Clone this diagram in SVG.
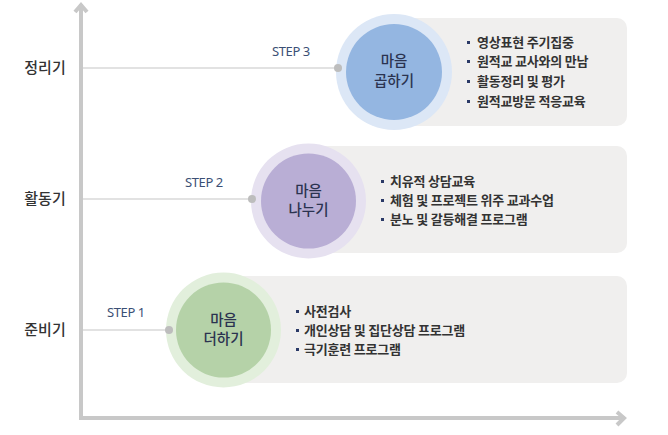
<svg xmlns="http://www.w3.org/2000/svg" width="668" height="435" viewBox="0 0 668 435">
<style>
.lvl{font-family:"Noto Sans CJK KR","Noto Sans",sans-serif;font-size:15px;fill:#333;font-weight:500;text-anchor:middle}
.step{font-family:"Noto Sans","Liberation Sans",sans-serif;font-size:13px;fill:#3b4f75;letter-spacing:-0.4px}
.ct{font-family:"Noto Sans CJK KR",sans-serif;font-size:14.5px;fill:#2b3350;font-weight:500;text-anchor:middle}
.bt{font-family:"Noto Sans CJK KR",sans-serif;font-size:13px;fill:#333;font-weight:700;letter-spacing:-0.2px}
.panel{fill:#f0efee}
.bul{fill:#2b3a67}
.axis{stroke:#c8c8c8;stroke-width:4;fill:none}
.lvlline{stroke:#e2e2e2;stroke-width:2}
.dot{fill:#bdbdbd}
</style>
<g id="axes">
<path class="axis" d="M81 4 V418 H625"/>
<path class="axis" d="M75 12 L81 5 L87 12"/>
<path class="axis" d="M617 412 L624 418 L617 425"/>
</g>
<g id="connectors">
<line class="lvlline" x1="83" y1="68" x2="338" y2="68"/>
<line class="lvlline" x1="83" y1="199" x2="252" y2="199"/>
<line class="lvlline" x1="83" y1="330" x2="169" y2="330"/>
</g>
<g id="labels">
<text class="lvl" x="45" y="73">정리기</text>
<text class="lvl" x="45" y="204">활동기</text>
<text class="lvl" x="45" y="335">준비기</text>
</g>
<g id="step3">
<rect class="panel" x="400" y="18" width="227" height="108" rx="10"/>
<circle cx="394" cy="72" r="58" fill="#dce7f6"/>
<circle cx="394" cy="72" r="48" fill="#94b6e1"/>
<circle class="dot" cx="338" cy="68" r="4"/>
<text class="step" x="272" y="56">STEP 3</text>
<text class="ct" x="394" y="66">마음</text>
<text class="ct" x="394" y="86">곱하기</text>
<rect class="bul" x="467" y="41" width="3" height="3"/>
<rect class="bul" x="467" y="60" width="3" height="3"/>
<rect class="bul" x="467" y="80" width="3" height="3"/>
<rect class="bul" x="467" y="100" width="3" height="3"/>
<text class="bt" x="477" y="47">영상표현 주기집중</text>
<text class="bt" x="477" y="66">원적교 교사와의 만남</text>
<text class="bt" x="477" y="86">활동정리 및 평가</text>
<text class="bt" x="477" y="106">원적교방문 적응교육</text>
</g>
<g id="step2">
<rect class="panel" x="315" y="146" width="312" height="107" rx="10"/>
<circle cx="308.5" cy="201" r="57.5" fill="#e6e1f0"/>
<circle cx="308.5" cy="201" r="47.5" fill="#b9aed5"/>
<circle class="dot" cx="252" cy="199" r="4"/>
<text class="step" x="185" y="187">STEP 2</text>
<text class="ct" x="308.5" y="196">마음</text>
<text class="ct" x="308.5" y="215">나누기</text>
<rect class="bul" x="381" y="180" width="3" height="3"/>
<rect class="bul" x="381" y="199" width="3" height="3"/>
<rect class="bul" x="381" y="218" width="3" height="3"/>
<text class="bt" x="390" y="186">치유적 상담교육</text>
<text class="bt" x="390" y="205">체험 및 프로젝트 위주 교과수업</text>
<text class="bt" x="390" y="224">분노 및 갈등해결 프로그램</text>
</g>
<g id="step1">
<rect class="panel" x="230" y="276" width="397" height="107" rx="10"/>
<circle cx="223.5" cy="330" r="57.5" fill="#e2efdc"/>
<circle cx="223.5" cy="330" r="47.5" fill="#b5d2a8"/>
<circle class="dot" cx="169" cy="330" r="4"/>
<text class="step" x="107" y="317">STEP 1</text>
<text class="ct" x="223.5" y="325">마음</text>
<text class="ct" x="223.5" y="344">더하기</text>
<rect class="bul" x="296" y="310" width="3" height="3"/>
<rect class="bul" x="296" y="329" width="3" height="3"/>
<rect class="bul" x="296" y="348" width="3" height="3"/>
<text class="bt" x="304" y="316">사전검사</text>
<text class="bt" x="304" y="335">개인상담 및 집단상담 프로그램</text>
<text class="bt" x="304" y="354">극기훈련 프로그램</text>
</g>
</svg>
